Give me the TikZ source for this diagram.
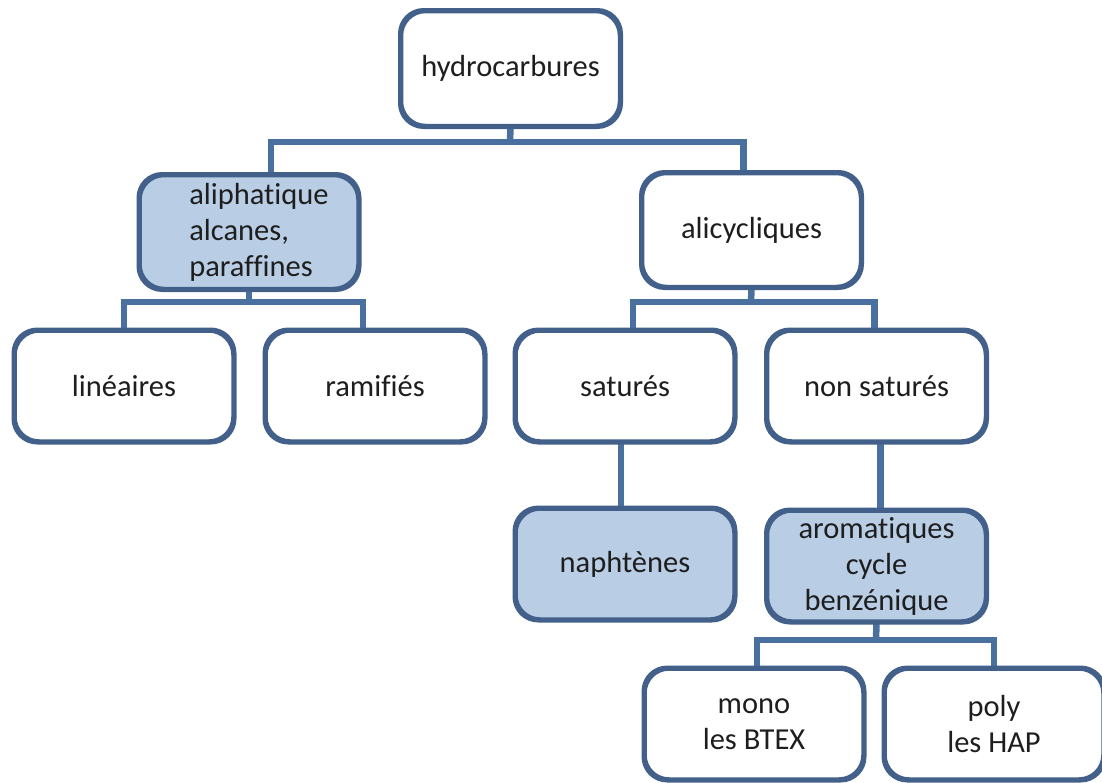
\documentclass[tikz,border=0pt]{standalone}
\usepackage{fontspec}
\setmainfont{Carlito}[Ligatures={NoCommon}]
\usetikzlibrary{calc}
\definecolor{bord}{RGB}{66,96,138}
\definecolor{conncol}{RGB}{74,112,160}
\definecolor{fillb}{RGB}{185,205,229}
\definecolor{txt}{RGB}{30,30,30}
\begin{document}
\begin{tikzpicture}[x=1pt,y=-1pt,
  box/.style={draw=bord,line width=3.5pt,rounded corners=24pt,fill=white,
    minimum width=218pt,minimum height=110pt,align=center,text=txt,
    font=\fontsize{30.5}{36}\selectfont,inner sep=0pt},
  filled/.style={box,fill=fillb},
  conn/.style={draw=conncol,line width=6.5pt}]
\useasboundingbox (0,0) rectangle (1102,782);
\coordinate (b1) at (510,142);
\coordinate (b2) at (249,302);
\coordinate (b3) at (751,302);
\coordinate (b4) at (876,640);
% boxes
\node[box,minimum height=114pt] (hyd) at (510.5,68.5) {hydrocarbures};
\node[filled,minimum height=113pt,align=left] (ali) at (249,232) {\hspace*{20pt}aliphatique\\\hspace*{20pt}alcanes,\\\hspace*{20pt}paraffines};
\node[box,minimum height=113pt] (alc) at (751.5,230) {alicycliques};
\node[box] (lin) at (124,386) {linéaires};
\node[box] (ram) at (375,386) {ramifiés};
\node[box] (sat) at (625,386) {saturés};
\node[box] (nsat) at (876.5,386) {non saturés};
\node[filled] (nap) at (625,564) {naphtènes};
\node[filled] (aro) at (876.5,566) {aromatiques\\cycle\\benzénique};
\node[box] (mono) at (754,724) {mono\\les BTEX};
\node[box] (poly) at (994,724) {poly\\les HAP};
% connectors
\draw[conn] (hyd.south) -- (b1);
\draw[conn] ($(ali.north)+(22,0)$) |- (b1) -| ($(alc.north)+(-8,0)$);
\draw[conn] (ali.south) -- (b2);
\draw[conn] (lin.north) |- (b2) -| ($(ram.north)+(-12,0)$);
\draw[conn] (alc.south) -- (b3);
\draw[conn] ($(sat.north)+(8,0)$) |- (b3) -| ($(nsat.north)+(-2,0)$);
\draw[conn] ($(sat.south)+(-4,0)$) -- ($(nap.north)+(-4,0)$);
\draw[conn] ($(nsat.south)+(4,0)$) -- ($(aro.north)+(4,0)$);
\draw[conn] (aro.south) -- (b4);
\draw[conn] ($(mono.north)+(3,0)$) |- (b4) -| (poly.north);
% redraw box borders over connector ends
\foreach \n in {hyd,ali,alc,lin,ram,sat,nsat,nap,aro,mono,poly}{
  \draw[bord,line width=3.5pt,rounded corners=24pt] (\n.north west) rectangle (\n.south east);
}
\end{tikzpicture}
\end{document}
